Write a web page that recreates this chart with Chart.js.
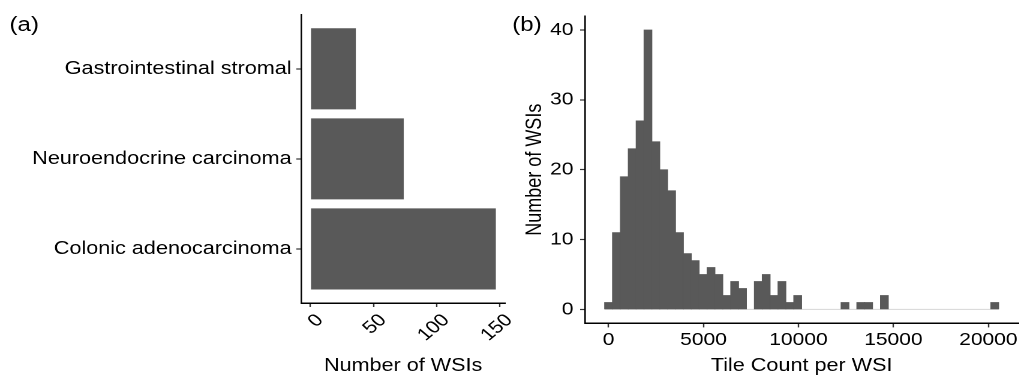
<!DOCTYPE html>
<html><head><meta charset="utf-8">
<script src="https://cdn.jsdelivr.net/npm/chart.js@4.4.1/dist/chart.umd.min.js"></script>
<style>
html,body{margin:0;padding:0;overflow:hidden;background:#fff;width:1021px;height:377px;}
#wrap{position:absolute;left:0;top:0;width:851px;height:377px;transform:scale(1.19976,1);transform-origin:0 0;}
#ca{position:absolute;left:0;top:0;}
#cb{position:absolute;left:425px;top:0;}
.lab{position:absolute;font-family:"Liberation Sans",Arial,sans-serif;font-size:20px;line-height:20px;color:#000;}
</style></head><body>
<div id="wrap">
<canvas id="ca" width="440" height="377"></canvas>
<canvas id="cb" width="426" height="377"></canvas>
<div class="lab" style="left:8px;top:14px">(a)</div>
<div class="lab" style="left:427px;top:14px">(b)</div>
</div>
<script>
// ---- data ----
const tumourTypes = ['Colonic adenocarcinoma', 'Neuroendocrine carcinoma', 'Gastrointestinal stromal'];
const wsiCounts = [147, 74, 36];
const countTicks = [0, 50, 100, 150];

const binWidth = 415;            // tile-count width of one histogram bin (first bin centred on 0)
const tileBinCounts = [1, 11, 19, 23, 27, 40, 24, 20, 17, 11, 8, 7, 5, 6, 5, 2, 4, 3, 0, 4, 5, 2, 4, 1, 2,
                       0, 0, 0, 0, 0, 1, 0, 1, 1, 0, 2, 0, 0, 0, 0, 0, 0, 0, 0, 0, 0, 0, 0, 0, 1];
const tileTicks = [0, 5000, 10000, 15000, 20000];
const freqTicks = [0, 10, 20, 30, 40];

// ---- style ----
Chart.defaults.font.family = '"Liberation Sans", Arial, Helvetica, sans-serif';
Chart.defaults.color = '#000';
const barFill = '#595959';
const tickFont = {size: 17.5};
const labFont = {size: 18};

// ---- panel (a) ----
new Chart(document.getElementById('ca'), {
  type: 'bar',
  data: {
    datasets: [{
      data: tumourTypes.map((t, i) => ({x: wsiCounts[i], y: i + 1})),
      backgroundColor: barFill, borderWidth: 0,
      barPercentage: 1, categoryPercentage: 0.9
    }]
  },
  options: {
    indexAxis: 'y', responsive: false, animation: false, devicePixelRatio: 2,
    layout: {padding: {left: 0, top: 14, right: 19, bottom: 0}},
    plugins: {legend: {display: false}, tooltip: {enabled: false}},
    scales: {
      y: {
        type: 'linear', min: 0.4, max: 3.6, offset: false,
        afterBuildTicks: s => { s.ticks = tumourTypes.map((t, i) => ({value: i + 1})); },
        afterFit: s => { s.width = 251; },
        ticks: {callback: v => tumourTypes[v - 1], font: labFont, color: '#000', padding: 4},
        grid: {drawOnChartArea: false, offset: false, tickLength: 4, tickColor: '#333', tickWidth: 1.2},
        border: {color: '#000', width: 1.3}
      },
      x: {
        type: 'linear', min: -7.35, max: 154.35, offset: false,
        afterBuildTicks: s => { s.ticks = countTicks.map(v => ({value: v})); },
        afterFit: s => { s.height = 74; },
        ticks: {callback: v => String(v), minRotation: 45, maxRotation: 45, autoSkip: false,
                font: tickFont, color: '#000', padding: 3, labelOffset: 8},
        grid: {drawOnChartArea: false, offset: false, tickLength: 4, tickColor: '#333', tickWidth: 1.2},
        border: {color: '#000', width: 1.5},
        title: {display: true, text: 'Number of WSIs', font: labFont, color: '#000', padding: {top: 0, bottom: 0}}
      }
    }
  }
});

// ---- panel (b) ----
const lo = -binWidth / 2;
const hi = (tileBinCounts.length - 1) * binWidth + binWidth / 2;
const ex = (hi - lo) * 0.05;

new Chart(document.getElementById('cb'), {
  type: 'bar',
  data: {
    datasets: [{
      type: 'bar',
      data: tileBinCounts.map((c, i) => ({x: i * binWidth, y: c})),
      backgroundColor: barFill, borderWidth: 0,
      barPercentage: 1, categoryPercentage: 1,
      inflateAmount: ctx => (ctx.raw && ctx.raw.y > 0 ? 0.33 : 0),
      order: 1
    }, {
      type: 'line',
      data: [{x: lo, y: 0}, {x: hi, y: 0}],
      borderColor: '#d6d6d6', borderWidth: 1, pointRadius: 0, order: 2
    }]
  },
  options: {
    responsive: false, animation: false, devicePixelRatio: 2,
    layout: {padding: {left: 0, top: 14.2, right: 2.2, bottom: 0}},
    plugins: {legend: {display: false}, tooltip: {enabled: false}},
    scales: {
      x: {
        type: 'linear', min: lo - ex, max: hi + ex, offset: false,
        afterBuildTicks: s => { s.ticks = tileTicks.map(v => ({value: v})); },
        afterFit: s => { s.height = 53.6; },
        ticks: {callback: v => String(v), maxRotation: 0, autoSkip: false, font: tickFont, color: '#000', padding: 2.5},
        grid: {drawOnChartArea: false, offset: false, tickLength: 4, tickColor: '#333', tickWidth: 1.2},
        border: {color: '#000', width: 1.5},
        title: {display: true, text: 'Tile Count per WSI', font: labFont, color: '#000', padding: {top: 0, bottom: 0}}
      },
      y: {
        type: 'linear', min: -2, max: 42,
        afterBuildTicks: s => { s.ticks = freqTicks.map(v => ({value: v})); },
        afterFit: s => { s.width = 62.5; },
        ticks: {callback: v => String(v), font: tickFont, color: '#000', padding: 5.5},
        grid: {drawOnChartArea: false, tickLength: 4, tickColor: '#333', tickWidth: 1.2},
        border: {color: '#000', width: 1.3},
        title: {display: true, text: 'Number of WSIs', font: labFont, color: '#000', padding: {top: 10, bottom: 0}}
      }
    }
  }
});
</script>
</body></html>
